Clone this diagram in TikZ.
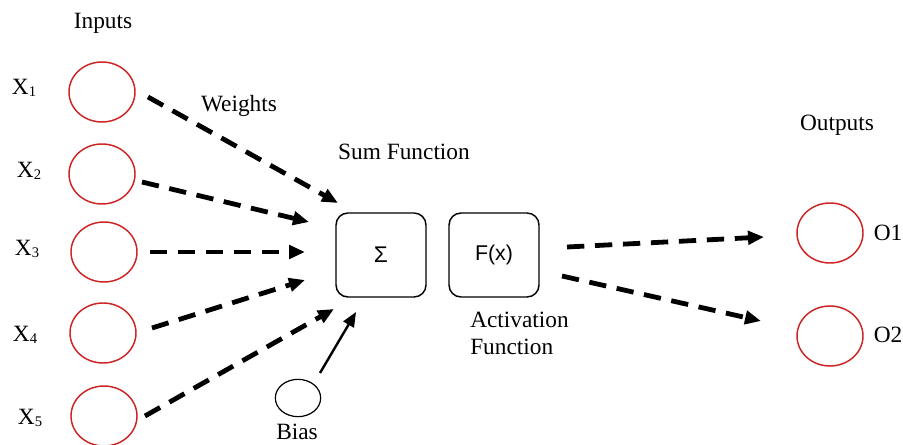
\documentclass[tikz,border=0pt]{standalone}
\usepackage{fontspec}
\setmainfont{Liberation Serif}
\newfontfamily\arialf{Liberation Sans}
\usetikzlibrary{arrows.meta,shapes.geometric}
\definecolor{nred}{RGB}{205,35,35}
\begin{document}
\begin{tikzpicture}[x=0.75pt,y=-0.75pt,
  incircle/.style={ellipse,draw=nred,line width=1.1pt,minimum width=49.5pt,minimum height=45pt,inner sep=0pt},
  biascircle/.style={ellipse,draw=black,line width=0.9pt,minimum width=34pt,minimum height=28pt,inner sep=0pt},
  funcbox/.style={draw=black,line width=1.1pt,rounded corners=9pt,minimum width=67.5pt,minimum height=63pt,inner sep=0pt,font=\arialf\fontsize{16}{18}\selectfont},
  lbl/.style={inner sep=0pt,font=\fontsize{17.5}{19}\selectfont},
  xlbl/.style={inner sep=0pt,font=\fontsize{17.5}{19}\selectfont},
  weight/.style={line width=3.6pt,dash pattern=on 13pt off 8pt,-{Triangle[length=12pt,width=10pt]}},
  solidarrow/.style={line width=1.8pt,-{Triangle[length=11pt,width=9pt]}}]
\useasboundingbox (0,0) rectangle (903,445);
% inputs
\node[incircle] (x1) at (102,92) {};
\node[incircle] (x2) at (102,174) {};
\node[incircle] (x3) at (104,252) {};
\node[incircle] (x4) at (103,333) {};
\node[incircle] (x5) at (104,416) {};
\node[xlbl] (lx1) at (24,88) {X\raisebox{-1pt}{\fontsize{11}{12}\selectfont 1}};
\node[xlbl] (lx2) at (29,171) {X\raisebox{-1pt}{\fontsize{11}{12}\selectfont 2}};
\node[xlbl] (lx3) at (27,249) {X\raisebox{-1pt}{\fontsize{11}{12}\selectfont 3}};
\node[xlbl] (lx4) at (25,335) {X\raisebox{-1pt}{\fontsize{11}{12}\selectfont 4}};
\node[xlbl] (lx5) at (30,418) {X\raisebox{-1pt}{\fontsize{11}{12}\selectfont 5}};
\node[lbl] (inputs) at (103,23) {Inputs};
\node[lbl] (weights) at (239,106) {Weights};
\node[lbl] (sumlbl) at (404,152) {Sum Function};
% boxes
\node[funcbox] (sum) at (381,255) {\fontsize{17}{18}\selectfont Σ};
\node[funcbox] (fx) at (494,255) {F(x)};
\node[lbl,align=left,anchor=north west] (act) at (470,312) {Activation\\[1pt]Function};
% bias
\node[biascircle] (bias) at (298,398) {};
\node[lbl] (biaslbl) at (297,432) {Bias};
% outputs
\node[incircle] (o1) at (830,233) {};
\node[incircle] (o2) at (830,336) {};
\node[lbl] (outputs) at (837,125) {Outputs};
\node[lbl] (lo1) at (888,233) {O1};
\node[lbl] (lo2) at (888,335) {O2};
% connector ends
\coordinate (s1) at (148,97);  \coordinate (e1) at (338,203);
\coordinate (s2) at (142,182); \coordinate (e2) at (309,222);
\coordinate (s3) at (150,252); \coordinate (e3) at (305,252);
\coordinate (s4) at (152,328); \coordinate (e4) at (305,280);
\coordinate (s5) at (145,416); \coordinate (e5) at (334,309);
\coordinate (sb) at (320,373); \coordinate (eb) at (356,312);
\coordinate (so1) at (567,247); \coordinate (eo1) at (764,237);
\coordinate (so2) at (562,276); \coordinate (eo2) at (761,321);
\draw[weight] (s1) -- (e1);
\draw[weight] (s2) -- (e2);
\draw[weight] (s3) -- (e3);
\draw[weight] (s4) -- (e4);
\draw[weight] (s5) -- (e5);
\draw[solidarrow] (sb) -- (eb);
\draw[weight] (so1) -- (eo1);
\draw[weight] (so2) -- (eo2);
\end{tikzpicture}
\end{document}
